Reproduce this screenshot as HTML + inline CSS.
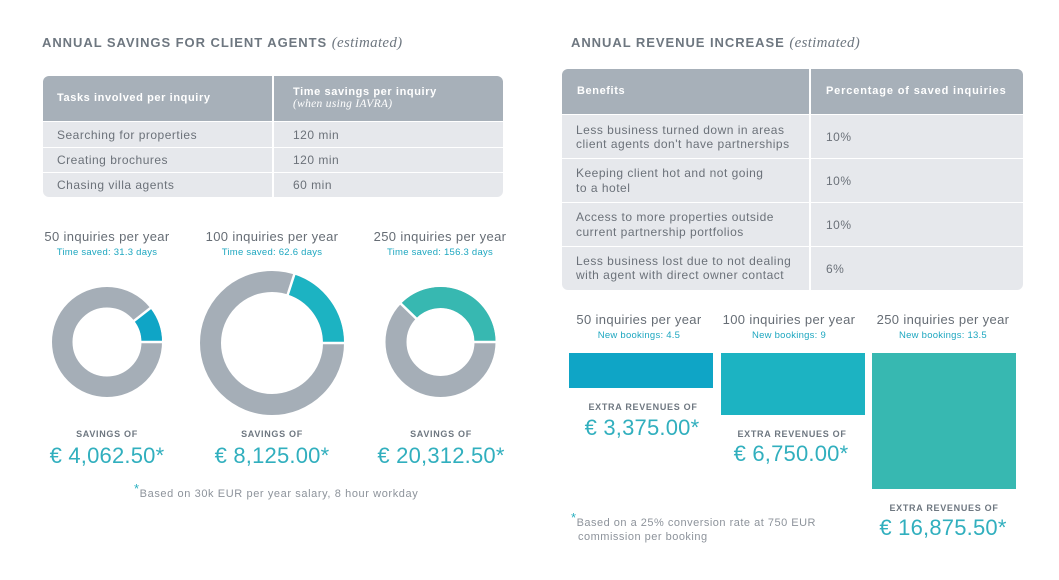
<!DOCTYPE html>
<html><head><meta charset="utf-8">
<style>
*{margin:0;padding:0;box-sizing:border-box}
body{width:1059px;height:580px;background:#fff;position:relative;overflow:hidden;font-family:"Liberation Sans",sans-serif;color:#6b7179}
.a{position:absolute;white-space:nowrap}
.title{font-weight:bold;font-size:13px;color:#6e7780;letter-spacing:0.95px;line-height:16px}
.title i{font-family:"Liberation Serif",serif;font-weight:normal;letter-spacing:0.3px;font-size:15px}
.tbl{position:absolute;border-radius:6px;overflow:hidden}
.cell{position:absolute}
.hd{background:#a7b0b9;color:#fff;font-weight:bold;font-size:11px}
.bd{background:#e6e8ec;font-size:11.5px;color:#6b7179}
.hx{font-size:11px;font-weight:bold;color:#fff;line-height:14px;letter-spacing:0.6px}
.bx{font-size:12px;letter-spacing:0.5px;color:#6b7179}
.c{text-align:center}
.h13{font-size:13px;color:#666d75;line-height:16px;letter-spacing:0.35px}
.ts{font-size:9.5px;color:#1ea7c0;line-height:12px;letter-spacing:0.25px}
.so{font-size:9px;font-weight:bold;color:#6e7780;letter-spacing:0.7px;line-height:12px}
.amt{font-size:22px;color:#31afbe;line-height:26px;letter-spacing:0.2px}
.fn{font-size:11px;color:#8d939b;line-height:14px;letter-spacing:0.6px}
.fn b{color:#2ab0c0;font-weight:normal;font-size:13px;position:relative;top:-4px}
</style></head><body>

<div class="a title" style="left:42px;top:35px">ANNUAL SAVINGS FOR CLIENT AGENTS <i>(estimated)</i></div>
<div class="a title" style="left:571px;top:35px">ANNUAL REVENUE INCREASE <i>(estimated)</i></div>

<!-- Left table -->
<div class="tbl" style="left:43px;top:76px;width:460px;height:121px">
  <div class="cell hd" style="left:0;top:0;width:229px;height:45px"></div>
  <div class="cell hd" style="left:231px;top:0;width:229px;height:45px"></div>
  <div class="cell bd" style="left:0;top:46px;width:229px;height:25px"></div>
  <div class="cell bd" style="left:231px;top:46px;width:229px;height:25px"></div>
  <div class="cell bd" style="left:0;top:72px;width:229px;height:24px"></div>
  <div class="cell bd" style="left:231px;top:72px;width:229px;height:24px"></div>
  <div class="cell bd" style="left:0;top:97px;width:229px;height:24px"></div>
  <div class="cell bd" style="left:231px;top:97px;width:229px;height:24px"></div>
</div>
<div class="a hx" style="left:57px;top:91px">Tasks involved per inquiry</div>
<div class="a hx" style="left:293px;top:85px">Time savings per inquiry</div>
<div class="a" style="left:293px;top:98px;font-size:11.5px;font-style:italic;font-family:'Liberation Serif',serif;color:#fff;line-height:12px;letter-spacing:0.3px">(when using IAVRA)</div>
<div class="a bx" style="left:57px;top:128px;line-height:14px">Searching for properties</div>
<div class="a bx" style="left:293px;top:128px;line-height:14px">120 min</div>
<div class="a bx" style="left:57px;top:153px;line-height:14px">Creating brochures</div>
<div class="a bx" style="left:293px;top:153px;line-height:14px">120 min</div>
<div class="a bx" style="left:57px;top:178px;line-height:14px">Chasing villa agents</div>
<div class="a bx" style="left:293px;top:178px;line-height:14px">60 min</div>

<!-- Right table -->
<div class="tbl" style="left:562px;top:69px;width:461px;height:221px">
  <div class="cell hd" style="left:0;top:0;width:247px;height:45px"></div>
  <div class="cell hd" style="left:249px;top:0;width:212px;height:45px"></div>
  <div class="cell bd" style="left:0;top:46px;width:247px;height:43px"></div>
  <div class="cell bd" style="left:249px;top:46px;width:212px;height:43px"></div>
  <div class="cell bd" style="left:0;top:90px;width:247px;height:43px"></div>
  <div class="cell bd" style="left:249px;top:90px;width:212px;height:43px"></div>
  <div class="cell bd" style="left:0;top:134px;width:247px;height:43px"></div>
  <div class="cell bd" style="left:249px;top:134px;width:212px;height:43px"></div>
  <div class="cell bd" style="left:0;top:178px;width:247px;height:43px"></div>
  <div class="cell bd" style="left:249px;top:178px;width:212px;height:43px"></div>
</div>
<div class="a hx" style="left:577px;top:84px">Benefits</div>
<div class="a hx" style="left:826px;top:84px;letter-spacing:0.85px">Percentage of saved inquiries</div>
<div class="a bx" style="left:576px;top:123px;line-height:14px">Less business turned down in areas<br>client agents don't have partnerships</div>
<div class="a bx" style="left:826px;top:130px;line-height:14px">10%</div>
<div class="a bx" style="left:576px;top:166px;line-height:15px">Keeping client hot and not going<br>to a hotel</div>
<div class="a bx" style="left:826px;top:174px;line-height:14px">10%</div>
<div class="a bx" style="left:576px;top:210px;line-height:15px">Access to more properties outside<br>current partnership portfolios</div>
<div class="a bx" style="left:826px;top:218px;line-height:14px">10%</div>
<div class="a bx" style="left:576px;top:254px;line-height:14px">Less business lost due to not dealing<br>with agent with direct owner contact</div>
<div class="a bx" style="left:826px;top:262px;line-height:14px">6%</div>

<!-- Donuts & bars -->
<svg class="a" style="left:0;top:0" width="1059" height="580">
  <circle cx="107" cy="342" r="44.75" fill="none" stroke="#a5aeb7" stroke-width="20.5"/>
  <path d="M151.75 342 A44.75 44.75 0 0 0 142.26 314.45" fill="none" stroke="#0fa5c6" stroke-width="20.5"/>
  <line x1="140" y1="342" x2="164" y2="342" stroke="#fff" stroke-width="2.5"/>
  <line x1="133" y1="321.7" x2="151.9" y2="306.9" stroke="#fff" stroke-width="2.5"/>

  <circle cx="272" cy="343" r="61.5" fill="none" stroke="#a5aeb7" stroke-width="21"/>
  <path d="M333.5 343 A61.5 61.5 0 0 0 291 284.51" fill="none" stroke="#1cb3c2" stroke-width="21"/>
  <line x1="321" y1="343" x2="346" y2="343" stroke="#fff" stroke-width="2.5"/>
  <line x1="287.45" y1="295.45" x2="294.87" y2="272.62" stroke="#fff" stroke-width="2.5"/>

  <circle cx="440.5" cy="342" r="44.5" fill="none" stroke="#a5aeb7" stroke-width="21"/>
  <path d="M485 342 A44.5 44.5 0 0 0 408.5 311.09" fill="none" stroke="#37b8b1" stroke-width="21"/>
  <line x1="473" y1="342" x2="497" y2="342" stroke="#fff" stroke-width="2.5"/>
  <line x1="416.77" y1="319.07" x2="399.5" y2="302.4" stroke="#fff" stroke-width="2.5"/>

  <rect x="569" y="353" width="144" height="35" fill="#0fa5c6"/>
  <rect x="721" y="353" width="144" height="62" fill="#1cb3c2"/>
  <rect x="872" y="353" width="144" height="136" fill="#37b8b1"/>
</svg>

<!-- Left column texts -->
<div class="a c h13" style="left:37px;width:140px;top:229px">50 inquiries per year</div>
<div class="a c ts" style="left:37px;width:140px;top:247px">Time saved: 31.3 days</div>
<div class="a c h13" style="left:202px;width:140px;top:229px">100 inquiries per year</div>
<div class="a c ts" style="left:202px;width:140px;top:247px">Time saved: 62.6 days</div>
<div class="a c h13" style="left:370px;width:140px;top:229px">250 inquiries per year</div>
<div class="a c ts" style="left:370px;width:140px;top:247px">Time saved: 156.3 days</div>

<div class="a c so" style="left:47px;width:120px;top:428px">SAVINGS OF</div>
<div class="a c amt" style="left:27px;width:160px;top:443px">€ 4,062.50*</div>
<div class="a c so" style="left:212px;width:120px;top:428px">SAVINGS OF</div>
<div class="a c amt" style="left:192px;width:160px;top:443px">€ 8,125.00*</div>
<div class="a c so" style="left:381px;width:120px;top:428px">SAVINGS OF</div>
<div class="a c amt" style="left:361px;width:160px;top:443px">€ 20,312.50*</div>

<div class="a fn" style="left:134px;top:486px"><b>*</b>Based on 30k EUR per year salary, 8 hour workday</div>

<!-- Right bottom texts -->
<div class="a c h13" style="left:569px;width:140px;top:312px">50 inquiries per year</div>
<div class="a c ts" style="left:569px;width:140px;top:330px">New bookings: 4.5</div>
<div class="a c h13" style="left:719px;width:140px;top:312px">100 inquiries per year</div>
<div class="a c ts" style="left:719px;width:140px;top:330px">New bookings: 9</div>
<div class="a c h13" style="left:873px;width:140px;top:312px">250 inquiries per year</div>
<div class="a c ts" style="left:873px;width:140px;top:330px">New bookings: 13.5</div>

<div class="a c so" style="left:573px;width:140px;top:401px">EXTRA REVENUES OF</div>
<div class="a c amt" style="left:562px;width:160px;top:415px">€ 3,375.00*</div>
<div class="a c so" style="left:722px;width:140px;top:428px">EXTRA REVENUES OF</div>
<div class="a c amt" style="left:711px;width:160px;top:441px">€ 6,750.00*</div>
<div class="a c so" style="left:874px;width:140px;top:502px">EXTRA REVENUES OF</div>
<div class="a c amt" style="left:863px;width:160px;top:515px">€ 16,875.50*</div>

<div class="a fn" style="left:571px;top:515px;letter-spacing:0.5px"><b>*</b>Based on a 25% conversion rate at 750 EUR</div>
<div class="a fn" style="left:578px;top:530px;letter-spacing:0.5px">commission per booking</div>

</body></html>
